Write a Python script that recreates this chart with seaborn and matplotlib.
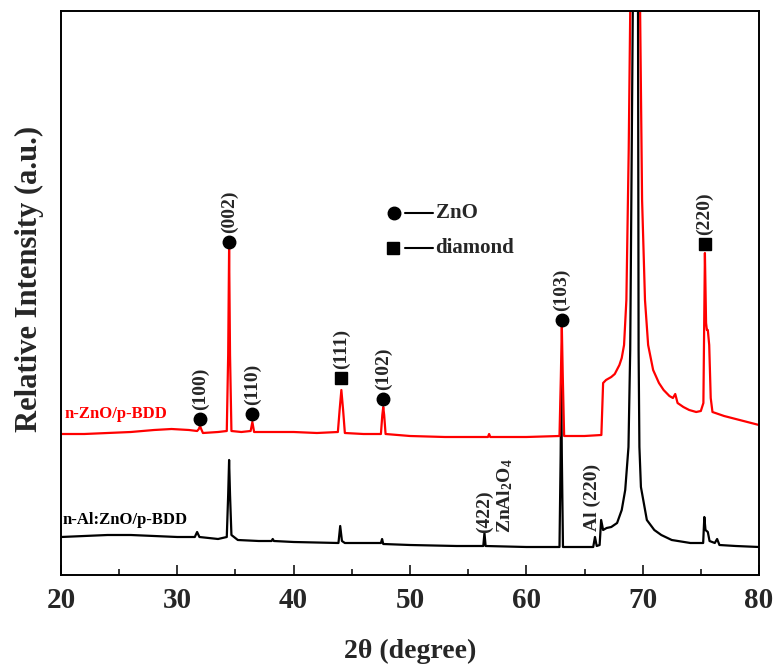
import numpy as np
import pandas as pd
import matplotlib
matplotlib.use("Agg")
import matplotlib.pyplot as plt
import seaborn as sns
from matplotlib.ticker import MultipleLocator

# ---------------- data (a.u.) ----------------
red_x = [20, 22, 24, 26, 28, 29.5, 31.0, 31.7, 31.85, 31.95, 32.05, 32.2, 33.5, 34.25, 34.37, 34.45,
         34.53, 34.65, 35.5, 36.3, 36.45, 36.6, 38, 40, 42, 43.8, 43.95, 44.1, 44.25, 44.4, 46,
         47.5, 47.62, 47.7, 47.78, 47.9, 50, 53, 56.7, 56.8, 56.9, 60, 62.85, 62.97, 63.05,
         63.13, 63.25, 65, 66.45, 66.6, 66.85, 67.3, 67.6, 68.0, 68.2, 68.4, 68.6, 68.8, 68.93,
         69.35, 69.78, 69.95, 70.2, 70.47, 70.9, 71.4, 71.8, 72.3, 72.6, 72.8, 73.0, 73.5, 74.0,
         74.6, 75.0, 75.22, 75.35, 75.45, 75.52, 75.6, 75.72, 75.85, 76.0, 77, 78, 79, 80]
red_y = [141, 141, 142, 143, 145, 146, 145, 144, 146, 149, 146, 142, 143, 144, 220, 327,
         220, 144, 143, 144, 153, 143, 143, 143, 142, 143, 165, 185, 165, 142, 141,
         141, 160, 168, 160, 141, 139, 138, 138, 141, 138, 138, 139, 200, 249,
         200, 139, 139, 140, 192, 195, 198, 201, 210, 217, 230, 275, 425, 564,
         1375, 564, 375, 275, 230, 205, 192, 185, 179, 177, 181, 172, 168, 165,
         163, 164, 172, 322, 252, 245, 245, 230, 177, 163, 159, 156, 153, 150]

black_x = [20, 22, 24, 26, 28, 30, 31.5, 31.7, 31.9, 33.5, 34.25, 34.37, 34.45, 34.53, 34.65,
           35.2, 37, 38.1, 38.2, 38.3, 40, 43.85, 44.0, 44.15, 44.4, 47.5, 47.6, 47.7, 50, 54,
           56.3, 56.4, 56.5, 60, 62.85, 62.95, 63.0, 63.05, 63.15, 65.75, 65.9, 66.05, 66.3,
           66.43, 66.6, 66.9, 67.3, 67.8, 68.2, 68.5, 68.78, 68.93, 69.15, 69.38, 69.6, 69.65,
           69.72, 69.85, 70.36, 71.0, 71.6, 72.5, 74.1, 75.2, 75.3, 75.4, 75.5, 75.6, 75.75,
           76.2, 76.4, 76.6, 78, 80]
black_y = [38, 39, 40, 40, 39, 38, 38, 43, 38, 36, 38, 80, 115, 80, 40,
           35, 34, 34, 36, 34, 33, 32, 49, 34, 32, 32, 36, 31, 30, 29,
           29, 42, 29, 28, 28, 120, 195, 120, 28, 28, 38, 29, 30,
           55, 45, 47, 48, 52, 65, 85, 128, 225, 564, 1375, 564, 225,
           128, 88, 55, 45, 40, 35, 32, 32, 58, 45, 44, 43, 34,
           32, 36, 30, 29, 28]

zno_x = [31.95, 34.45, 36.45, 47.7, 63.05]
zno_mark_y = [156, 333, 161, 176, 255]
zno_labels = ["(100)", "(002)", "(110)", "(102)", "(103)"]

dia_x = [44.1, 75.35]
dia_mark_y = [197, 331]
dia_labels = ["(111)", "(220)"]

extra_x = [56.4, 58.2, 65.7]
extra_y = [42, 42, 44]
extra_labels = ["(422)", r"ZnAl$_\mathrm{2}$O$_\mathrm{4}$", "Al (220)"]

series_names = ["n-ZnO/p-BDD", "n-Al:ZnO/p-BDD"]
xticks = [20, 30, 40, 50, 60, 70, 80]

# ---------------- style ----------------
sns.set_style("ticks")
plt.rcParams.update({
    "font.family": ["Liberation Serif", "DejaVu Serif"],
    "font.weight": "bold",
    "axes.labelweight": "bold",
    "mathtext.fontset": "custom",
    "mathtext.rm": "Liberation Serif:bold",
    "mathtext.it": "Liberation Serif:bold:italic",
    "mathtext.bf": "Liberation Serif:bold",
})

fig = plt.figure(figsize=(7.74, 6.64), dpi=100)
ax = fig.add_axes([61 / 774, 89 / 664, 698 / 774, 564 / 664])

df_black = pd.DataFrame({"two_theta": black_x, "intensity": black_y})
df_red = pd.DataFrame({"two_theta": red_x, "intensity": red_y})
sns.lineplot(data=df_black, x="two_theta", y="intensity", color="black", lw=1.6,
             ax=ax, sort=False, estimator=None)
sns.lineplot(data=df_red, x="two_theta", y="intensity", color="#ff0000", lw=1.6,
             ax=ax, sort=False, estimator=None)

# peak markers and labels
ax.plot(zno_x, zno_mark_y, "o", color="black", ms=9, ls="none")
ax.plot(dia_x, dia_mark_y, "s", color="black", ms=9, ls="none")
for x, y, lab in zip(zno_x + dia_x, zno_mark_y + dia_mark_y, zno_labels + dia_labels):
    ax.text(x, y + 9, lab, rotation=90, ha="center", va="bottom", fontsize=14,
            fontweight="bold")
for x, y, lab in zip(extra_x, extra_y, extra_labels):
    ax.text(x, y, lab, rotation=90, ha="center", va="bottom", fontsize=14,
            fontweight="bold")

# series names
ax.text(20.3, 161, series_names[0], color="#ff0000", fontsize=12, fontweight="bold",
        va="center", ha="left")
ax.text(20.1, 55, series_names[1], color="black", fontsize=12, fontweight="bold",
        va="center", ha="left")

# legend drawn by hand (marker — line — text)
ax.plot([48.63], [362], "o", color="black", ms=9)
ax.plot([49.6, 52.0], [362, 362], color="black", lw=1.5)
ax.text(52.2, 362, "ZnO", fontsize=15, fontweight="bold", va="center", ha="left")
ax.plot([48.55], [327], "s", color="black", ms=9)
ax.plot([49.6, 52.0], [327, 327], color="black", lw=1.5)
ax.text(52.2, 327, "diamond", fontsize=15, fontweight="bold", va="center", ha="left")

# axes
ax.set_xlim(20, 80)
ax.set_ylim(0, 564)
ax.set_xticks(xticks)
ax.xaxis.set_minor_locator(MultipleLocator(5))
ax.set_yticks([])
ax.tick_params(axis="x", which="both", direction="in", bottom=True, top=False,
               width=1.3, labelsize=21, pad=9)
ax.tick_params(axis="x", which="major", length=7)
ax.tick_params(axis="x", which="minor", length=4)
for lab in ax.get_xticklabels():
    lab.set_fontweight("bold")
for s in ax.spines.values():
    s.set_visible(True)
    s.set_linewidth(1.4)
    s.set_color("black")

ax.set_xlabel("2θ (degree)", fontsize=20, fontweight="bold")
ax.xaxis.set_label_coords(0.5, -0.113)
ax.set_ylabel("Relative Intensity (a.u.)", fontsize=22, fontweight="bold")
ax.yaxis.set_label_coords(-0.025, 0.525)

fig.savefig("out.png", dpi=100)
